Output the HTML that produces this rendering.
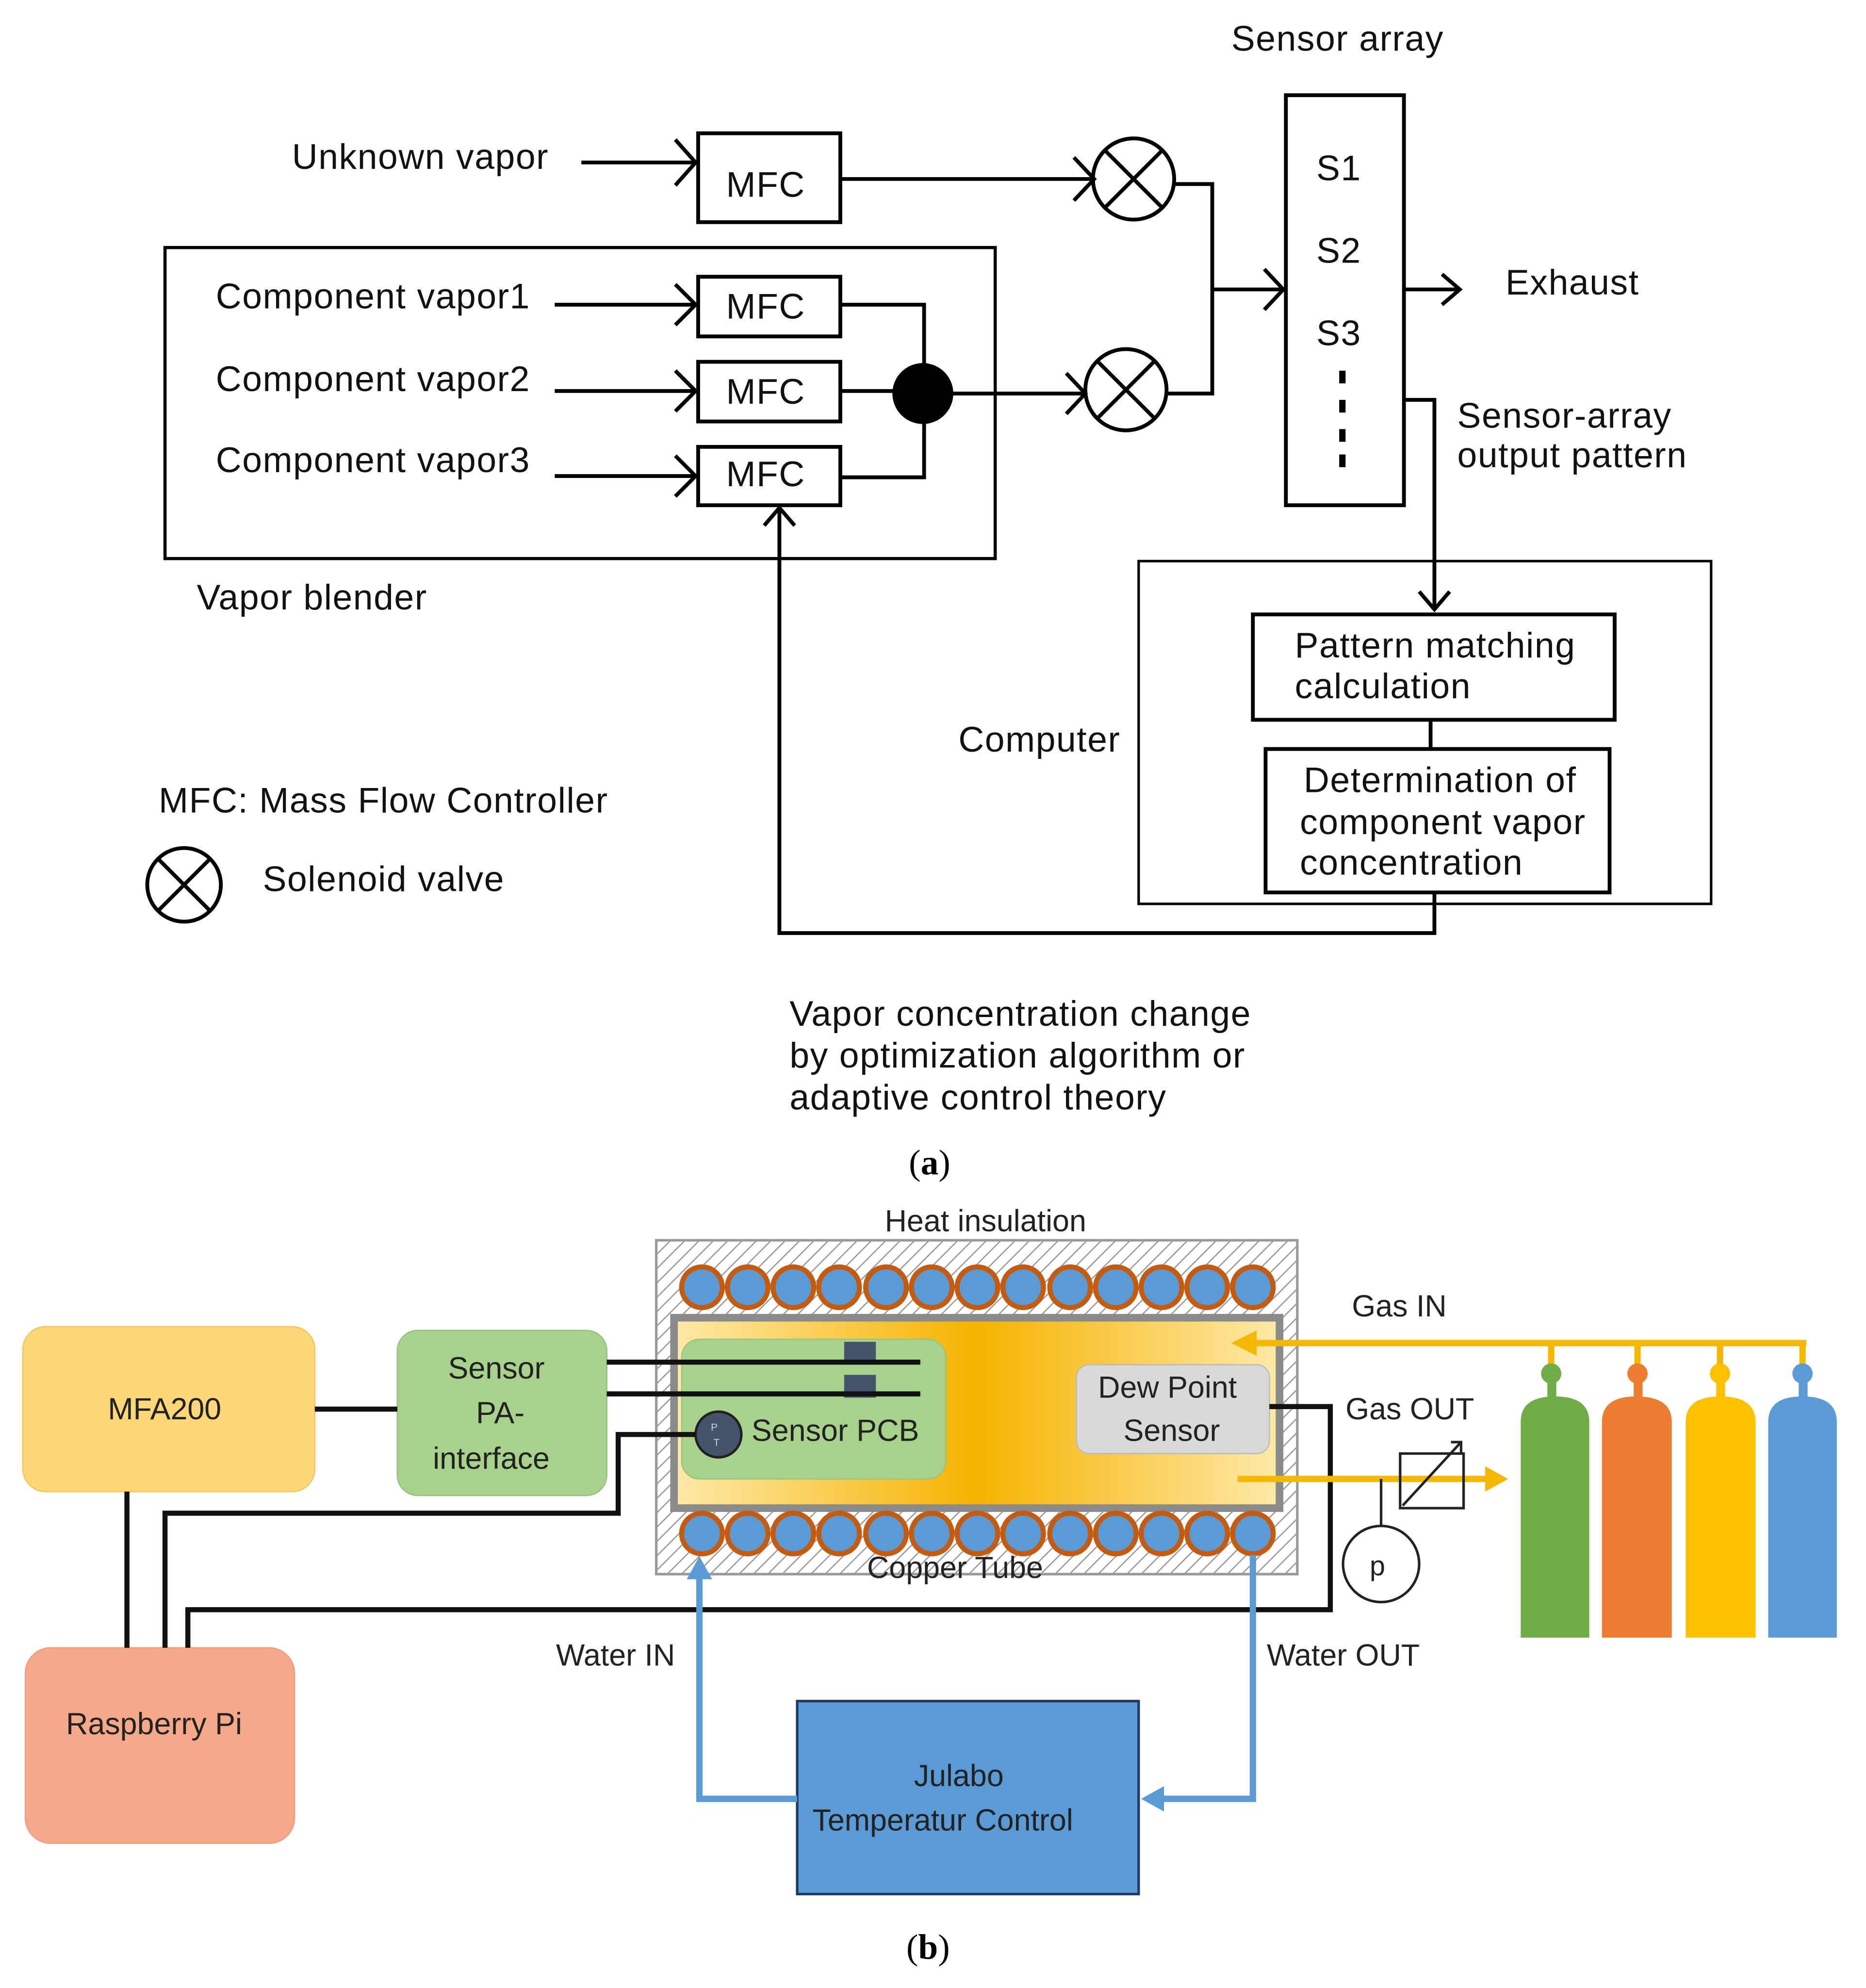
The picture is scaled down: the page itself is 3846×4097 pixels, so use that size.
<!DOCTYPE html>
<html><head><meta charset="utf-8"><style>html,body{margin:0;padding:0;background:#fff}svg{display:block}</style></head>
<body>
<svg width="3846" height="4097" viewBox="0 0 1470 1566" preserveAspectRatio="none" xmlns="http://www.w3.org/2000/svg" font-family="Liberation Sans, sans-serif">
<defs>
<pattern id="hatch" width="8" height="8" patternUnits="userSpaceOnUse" patternTransform="rotate(45)"><rect width="8" height="8" fill="#fff"/><line x1="0" y1="0" x2="0" y2="8" stroke="#999" stroke-width="2"/></pattern>
<linearGradient id="yg" x1="0" x2="1" y1="0" y2="0"><stop offset="0" stop-color="#fde9a8"/><stop offset="0.5" stop-color="#f6b300"/><stop offset="1" stop-color="#fde9a8"/></linearGradient>
</defs>
<g fill="none" stroke="#000" stroke-width="3">
<rect x="1013" y="75" width="93" height="323"/>
<rect x="550" y="105" width="112" height="70"/>
<rect x="130" y="195" width="654" height="245" stroke-width="2.5"/>
<rect x="550" y="218" width="112" height="47"/>
<rect x="550" y="285" width="112" height="47"/>
<rect x="550" y="352" width="112" height="46"/>
<rect x="897" y="442" width="451" height="270" stroke-width="2"/>
<rect x="987" y="484" width="285" height="83"/>
<rect x="997" y="590" width="271" height="113"/>
<circle cx="893" cy="141" r="32"/><path d="M870,118 L916,164 M916,118 L870,164"/>
<circle cx="887" cy="307" r="32"/><path d="M864,284 L910,330 M910,284 L864,330"/>
<circle cx="145" cy="697" r="29"/><path d="M124,676 L166,718 M166,676 L124,718"/>
<path d="M458,128 H548 M532,110 L548,128 L532,146"/>
<path d="M662,141 H862 M846,124 L862,141 L846,158"/>
<path d="M437,240 H548 M532,224 L548,240 L532,256"/>
<path d="M437,308 H548 M532,292 L548,308 L532,324"/>
<path d="M437,375 H548 M532,359 L548,375 L532,391"/>
<path d="M662,240 H728 V290 M662,308 H705 M662,376 H728 V330"/>
<path d="M750,310 H855 M840,294 L855,310 L840,326"/>
<path d="M925,145 H955 V310 H919 M955,228 H1011 M996,212 L1011,228 L996,244"/>
<path d="M1106,228 H1150 M1136,216 L1150,228 L1136,240"/>
<path d="M1106,315 H1130 V480 M1118,466 L1130,480 L1142,466"/>
<path d="M1127,567 V590"/>
<path d="M1130,703 V735 H614 V401 M602,414 L614,400 L626,414"/>
</g>
<circle cx="727" cy="310" r="24" fill="#000"/>
<g fill="#000"><rect x="1055" y="292" width="5" height="10"/><rect x="1055" y="315" width="5" height="10"/><rect x="1055" y="338" width="5" height="10"/><rect x="1055" y="358" width="5" height="10"/></g>
<g font-size="28" fill="#111" letter-spacing="0.6">
<text x="970" y="40">Sensor array</text>
<text x="1037" y="142">S1</text><text x="1037" y="207">S2</text><text x="1037" y="272">S3</text>
<text x="230" y="133">Unknown vapor</text>
<text x="572" y="155">MFC</text><text x="572" y="251">MFC</text><text x="572" y="318">MFC</text><text x="572" y="383">MFC</text>
<text x="170" y="243">Component vapor1</text>
<text x="170" y="308">Component vapor2</text>
<text x="170" y="372">Component vapor3</text>
<text x="1186" y="232">Exhaust</text>
<text x="1148" y="337">Sensor-array</text><text x="1148" y="368">output pattern</text>
<text x="1020" y="518">Pattern matching</text><text x="1020" y="550">calculation</text>
<text x="1027" y="624">Determination of</text><text x="1024" y="657">component vapor</text><text x="1024" y="689">concentration</text>
<text x="755" y="592">Computer</text>
<text x="155" y="480">Vapor blender</text>
<text x="125" y="640">MFC: Mass Flow Controller</text>
<text x="207" y="702">Solenoid valve</text>
<text x="622" y="808">Vapor concentration change</text>
<text x="622" y="841">by optimization algorithm or</text>
<text x="622" y="874">adaptive control theory</text>
</g>
<text x="716" y="925" font-family="Liberation Serif, serif" font-size="28">(<tspan font-weight="bold">a</tspan>)</text>
<rect x="517" y="977" width="505" height="263" fill="url(#hatch)" stroke="#999" stroke-width="2"/>
<rect x="531" y="1038" width="477" height="150" fill="url(#yg)" stroke="#8a8a8a" stroke-width="6"/>
<g fill="#5b9bd5" stroke="#c55a11" stroke-width="4">
<circle cx="553" cy="1014" r="16"/><circle cx="589" cy="1014" r="16"/><circle cx="625" cy="1014" r="16"/><circle cx="661" cy="1014" r="16"/><circle cx="698" cy="1014" r="16"/><circle cx="734" cy="1014" r="16"/><circle cx="770" cy="1014" r="16"/><circle cx="806" cy="1014" r="16"/><circle cx="843" cy="1014" r="16"/><circle cx="879" cy="1014" r="16"/><circle cx="915" cy="1014" r="16"/><circle cx="951" cy="1014" r="16"/><circle cx="987" cy="1014" r="16"/>
<circle cx="553" cy="1208" r="16"/><circle cx="589" cy="1208" r="16"/><circle cx="625" cy="1208" r="16"/><circle cx="661" cy="1208" r="16"/><circle cx="698" cy="1208" r="16"/><circle cx="734" cy="1208" r="16"/><circle cx="770" cy="1208" r="16"/><circle cx="806" cy="1208" r="16"/><circle cx="843" cy="1208" r="16"/><circle cx="879" cy="1208" r="16"/><circle cx="915" cy="1208" r="16"/><circle cx="951" cy="1208" r="16"/><circle cx="987" cy="1208" r="16"/>
</g>
<rect x="537" y="1055" width="208" height="110" rx="14" fill="#a9d18e" stroke="#9cc47f"/>
<rect x="848" y="1075" width="152" height="70" rx="10" fill="#d9d9d9" stroke="#bbb"/>
<rect x="18" y="1045" width="230" height="130" rx="18" fill="#fdd77a" stroke="#f6c65b"/>
<rect x="313" y="1048" width="165" height="130" rx="16" fill="#a9d18e" stroke="#93c47d"/>
<rect x="20" y="1298" width="212" height="154" rx="20" fill="#f6a98a" stroke="#f29c7c"/>
<rect x="628" y="1340" width="269" height="152" fill="#5b9bd5" stroke="#1f3864" stroke-width="2"/>
<g fill="#44546a"><rect x="665" y="1057" width="25" height="18"/><rect x="665" y="1083" width="25" height="18"/></g>
<circle cx="566" cy="1130" r="18" fill="#44546a" stroke="#222" stroke-width="2"/>
<g fill="none" stroke="#111" stroke-width="4">
<path d="M478,1073 H725 M478,1098 H725 M248,1110 H313"/>
<path d="M548,1130 H487 V1192 H130 V1298 M100,1175 V1298"/>
<path d="M148,1298 V1268 H1048 V1108 H1000"/>
</g>
<g fill="none" stroke="#f5b800" stroke-width="5">
<path d="M1423,1058 H985 M1222,1058 V1080 M1290,1058 V1080 M1355,1058 V1080 M1420,1058 V1080"/>
<path d="M975,1165 H1175"/>
</g>
<path d="M970,1058 L990,1048 L990,1068Z M1188,1165 L1170,1155 L1170,1175Z" fill="#f5b800"/>
<g fill="none" stroke="#222" stroke-width="2">
<rect x="1103" y="1145" width="50" height="43"/><path d="M1105,1186 L1151,1136 M1143,1136 H1151 V1144"/>
<circle cx="1088" cy="1232" r="30"/><path d="M1088,1165 V1202"/>
</g>
<text x="1079" y="1241" font-size="22" fill="#222">p</text>
<path d="M1198,1290 V1120 Q1198,1100 1225,1100 Q1252,1100 1252,1120 V1290Z" fill="#70ad47"/>
<path d="M1262,1290 V1120 Q1262,1100 1289,1100 Q1317,1100 1317,1120 V1290Z" fill="#ed7d31"/>
<path d="M1328,1290 V1120 Q1328,1100 1355,1100 Q1383,1100 1383,1120 V1290Z" fill="#ffc000"/>
<path d="M1393,1290 V1120 Q1393,1100 1420,1100 Q1447,1100 1447,1120 V1290Z" fill="#5b9bd5"/>
<rect x="1219" y="1085" width="7" height="16" fill="#70ad47"/><rect x="1287" y="1085" width="7" height="16" fill="#ed7d31"/><rect x="1352" y="1085" width="7" height="16" fill="#ffc000"/><rect x="1417" y="1085" width="7" height="16" fill="#5b9bd5"/>
<circle cx="1222" cy="1082" r="8" fill="#70ad47"/><circle cx="1290" cy="1082" r="8" fill="#ed7d31"/><circle cx="1355" cy="1082" r="8" fill="#ffc000"/><circle cx="1420" cy="1082" r="8" fill="#5b9bd5"/>
<g fill="none" stroke="#5b9bd5" stroke-width="5">
<path d="M628,1417 H551 V1240"/>
<path d="M987,1225 V1417 H915"/>
</g>
<path d="M551,1226 L541,1244 L561,1244Z M899,1417 L917,1407 L917,1427Z" fill="#5b9bd5"/>
<g font-size="24" fill="#222">
<text x="697" y="970">Heat insulation</text>
<text x="592" y="1135">Sensor PCB</text>
<text x="865" y="1101">Dew Point</text><text x="885" y="1135">Sensor</text>
<text x="85" y="1118">MFA200</text>
<text x="353" y="1086">Sensor</text><text x="375" y="1121">PA-</text><text x="341" y="1157">interface</text>
<text x="52" y="1366">Raspberry Pi</text>
<text x="1065" y="1037">Gas IN</text>
<text x="1060" y="1118">Gas OUT</text>
<text x="683" y="1243">Copper Tube</text>
<text x="438" y="1312">Water IN</text>
<text x="998" y="1312">Water OUT</text>
<text x="720" y="1407">Julabo</text>
<text x="640" y="1442">Temperatur Control</text>
</g>
<text x="560" y="1127" font-size="8" fill="#ccc">P</text><text x="562" y="1139" font-size="8" fill="#ccc">T</text>
<text x="714" y="1543" font-family="Liberation Serif, serif" font-size="28">(<tspan font-weight="bold">b</tspan>)</text>
</svg>
</body></html>
